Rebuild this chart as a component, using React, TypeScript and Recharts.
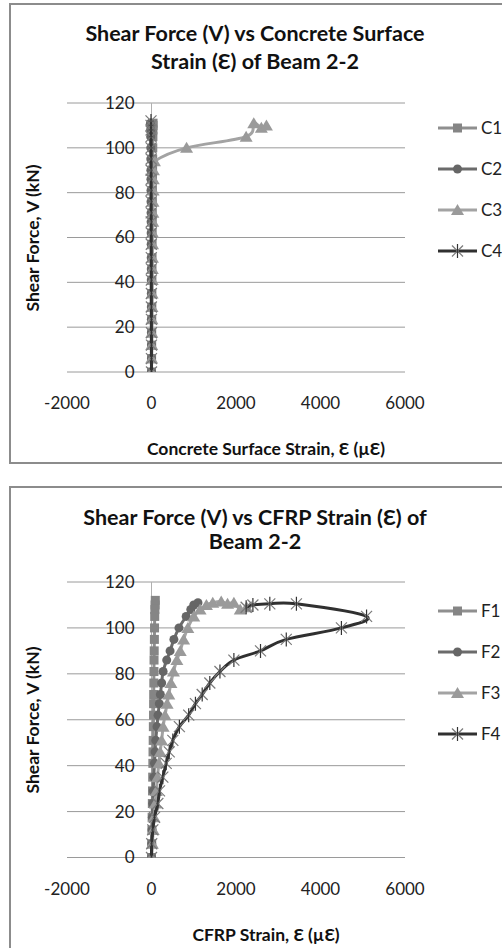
import { ScatterChart, Scatter, XAxis, YAxis, CartesianGrid, ReferenceLine } from "recharts";

// ---- data (strain in µε, shear force in kN) ----
const strainTicks = [-2000, 0, 2000, 4000, 6000];
const forceTicks = [0, 20, 40, 60, 80, 100, 120];

const loadSteps = [0, 6, 12, 17.5, 23.5, 29, 35, 41, 46, 51, 57, 62, 67, 71, 76, 81, 86, 90, 95, 100, 105, 108, 110, 111];

// Beam 2-2 concrete surface gauges
const c1Strain = [0, 2, 4, 5, 6, 8, 9, 10, 12, 13, 14, 16, 18, 19, 21, 22, 24, 26, 28, 30, 33, 35, 36, 37];
const c2Strain = [0, -1, -2, -3, -3, -4, -5, -6, -6, -7, -8, -9, -10, -11, -12, -13, -14, -15, -17, -18, -20, -22, -24, -25];
const c3Load = [0, 6, 12, 17.5, 23.5, 29, 35, 41, 46, 51, 57, 62, 67, 71, 76, 81, 86, 90, 94, 100, 105, 111, 109, 110];
const c3Strain = [0, 3, 5, 8, 10, 12, 15, 17, 20, 22, 25, 28, 30, 33, 36, 39, 42, 46, 70, 830, 2240, 2420, 2600, 2720];
const c4Load = [0, 6, 12, 17.5, 23.5, 29, 35, 41, 46, 51, 57, 62, 67, 71, 76, 81, 86, 90, 95, 100, 105, 108, 110, 112];
const c4Strain = [0, -1, -1, -2, -2, -3, -3, -4, -4, -5, -5, -6, -6, -7, -7, -8, -8, -9, -9, -10, -10, -11, -11, -12];

// Beam 2-2 CFRP gauges
const f1Load = [0, 6, 12, 17.5, 23.5, 29, 35, 41, 46, 51, 57, 62, 67, 71, 76, 81, 86, 90, 95, 100, 105, 108, 110, 112];
const f1Strain = [0, 5, 10, 15, 20, 24, 28, 32, 36, 40, 44, 48, 50, 52, 55, 58, 60, 64, 68, 72, 76, 80, 85, 90];
const f2Load = [0, 6, 12, 17.5, 23.5, 29, 35, 41, 46, 51, 57, 62, 67, 71, 76, 81, 86, 90, 95, 100, 105, 108, 110, 111];
const f2Strain = [0, 5, 12, 20, 30, 42, 55, 70, 85, 100, 130, 155, 185, 210, 240, 275, 360, 440, 530, 650, 820, 930, 1000, 1100];
const f3Load = [0, 6, 12, 17.5, 23.5, 29, 35, 41, 46, 51, 57, 62, 67, 71, 76, 81, 86, 90, 95, 100, 105, 108, 110, 111, 111.5, 110.5, 111, 108, 109];
const f3Strain = [0, 20, 40, 60, 90, 115, 140, 175, 205, 240, 275, 320, 370, 410, 460, 520, 600, 680, 760, 860, 1000, 1150, 1300, 1450, 1650, 1800, 1950, 2100, 2250];
const f4Load = [0, 6, 12, 17.5, 23.5, 29, 35, 41, 46, 51, 57, 62, 67, 71, 76, 81, 86, 90, 95, 100, 105, 110.5, 110.5, 110, 109];
const f4Strain = [0, 5, 31, 71, 150, 190, 268, 348, 420, 505, 660, 880, 1040, 1200, 1380, 1620, 1950, 2580, 3190, 4495, 5090, 3430, 2800, 2400, 2240];

const zip = (strain: number[], load: number[]) => strain.map((s, i) => ({ s, v: load[i] }));

type Kind = "square" | "circle" | "triangle" | "asterisk";
interface Series {
  name: string;
  data: { s: number; v: number }[];
  line: string;
  marker: string;
  kind: Kind;
}

const concreteSeries: Series[] = [
  { name: "C1", data: zip(c1Strain, loadSteps), line: "#8f8f8f", marker: "#858585", kind: "square" },
  { name: "C2", data: zip(c2Strain, loadSteps), line: "#6b6b6b", marker: "#666666", kind: "circle" },
  { name: "C3", data: zip(c3Strain, c3Load), line: "#a3a3a3", marker: "#9a9a9a", kind: "triangle" },
  { name: "C4", data: zip(c4Strain, c4Load), line: "#303030", marker: "#7a7a7a", kind: "asterisk" },
];

const cfrpSeries: Series[] = [
  { name: "F1", data: zip(f1Strain, f1Load), line: "#8f8f8f", marker: "#858585", kind: "square" },
  { name: "F2", data: zip(f2Strain, f2Load), line: "#6b6b6b", marker: "#666666", kind: "circle" },
  { name: "F3", data: zip(f3Strain, f3Load), line: "#a3a3a3", marker: "#9a9a9a", kind: "triangle" },
  { name: "F4", data: zip(f4Strain, f4Load), line: "#303030", marker: "#7a7a7a", kind: "asterisk" },
];

const FONT = "Lato, 'Open Sans', sans-serif";

// Excel-like smoothed line (Catmull-Rom through the points)
const excelSmooth = (context: any) => {
  let pts: number[][] = [];
  return {
    areaStart() {},
    areaEnd() {},
    lineStart() {
      pts = [];
    },
    point(x: number, y: number) {
      pts.push([+x, +y]);
    },
    lineEnd() {
      if (!pts.length) return;
      context.moveTo(pts[0][0], pts[0][1]);
      for (let i = 0; i < pts.length - 1; i++) {
        const p0 = pts[i - 1] || pts[i];
        const p1 = pts[i];
        const p2 = pts[i + 1];
        const p3 = pts[i + 2] || p2;
        context.bezierCurveTo(
          p1[0] + (p2[0] - p0[0]) / 6,
          p1[1] + (p2[1] - p0[1]) / 6,
          p2[0] - (p3[0] - p1[0]) / 6,
          p2[1] - (p3[1] - p1[1]) / 6,
          p2[0],
          p2[1]
        );
      }
    },
  };
};

function Marker({ kind, cx, cy, color }: { kind: Kind; cx: number; cy: number; color: string }) {
  if (kind === "square") return <rect x={cx - 4.5} y={cy - 4.5} width={9} height={9} fill={color} />;
  if (kind === "circle") return <circle cx={cx} cy={cy} r={4.5} fill={color} />;
  if (kind === "triangle")
    return <path d={`M${cx},${cy - 6} L${cx + 6.5},${cy + 5} L${cx - 6.5},${cy + 5} Z`} fill={color} />;
  return (
    <g stroke={color} strokeWidth={1.2}>
      <line x1={cx - 5.5} y1={cy - 5.5} x2={cx + 5.5} y2={cy + 5.5} />
      <line x1={cx - 5.5} y1={cy + 5.5} x2={cx + 5.5} y2={cy - 5.5} />
      <line x1={cx} y1={cy - 7} x2={cx} y2={cy + 7} stroke="#333" />
    </g>
  );
}

const X_MIN = -2000;
const X_MAX = 6000;
const PLOT_LEFT = 67;
const PLOT_RIGHT = 405;
const CHART_W = 502;
const X_AXIS_H = 40;
const Y_AXIS_W = 40;

function Panel({
  top,
  height,
  plotTop,
  plotBottom,
  series,
  title,
  titleGap,
  titleLine,
  xTitle,
  legendTop,
}: {
  top: number;
  height: number;
  plotTop: number;
  plotBottom: number;
  series: Series[];
  title: string[];
  titleGap: number;
  titleLine: number;
  xTitle: string;
  legendTop: number;
}) {
  const plotW = PLOT_RIGHT - PLOT_LEFT;
  const zeroX = ((0 - X_MIN) / (X_MAX - X_MIN)) * plotW;
  const yTick = (p: any) => (
    <text
      x={p.x + zeroX - 17}
      y={p.y}
      dy="0.35em"
      textAnchor="end"
      fontFamily={FONT}
      fontSize={17}
      fill="#222"
    >
      {p.payload.value}
    </text>
  );
  return (
    <>
      <div style={{ position: "absolute", left: 0, top, width: CHART_W, height }}>
        <ScatterChart
          width={CHART_W}
          height={height}
          margin={{
            top: plotTop,
            right: CHART_W - PLOT_RIGHT,
            left: PLOT_LEFT - Y_AXIS_W,
            bottom: height - plotBottom - X_AXIS_H,
          }}
        >
          <CartesianGrid vertical={false} stroke="#9a9a9a" strokeWidth={1} />
          <XAxis
            type="number"
            dataKey="s"
            domain={[X_MIN, X_MAX]}
            ticks={strainTicks}
            height={X_AXIS_H}
            axisLine={false}
            tickLine={false}
            tickSize={0}
            tickMargin={25}
            tick={{ fontFamily: FONT, fontSize: 17, fill: "#222" }}
            allowDataOverflow
          />
          <YAxis
            type="number"
            dataKey="v"
            domain={[0, 120]}
            ticks={forceTicks}
            width={Y_AXIS_W}
            axisLine={false}
            tickLine={false}
            tickSize={0}
            tickMargin={0}
            tick={yTick}
            allowDataOverflow
          />
          <ReferenceLine x={0} stroke="#b0b0b0" strokeWidth={1} />
          {series.map((sr) => (
            <Scatter
              key={sr.name}
              name={sr.name}
              data={sr.data}
              fill={sr.marker}
              line={{ stroke: sr.line, strokeWidth: 3 }}
              lineJointType={excelSmooth as any}
              shape={(p: any) => <Marker kind={sr.kind} cx={p.cx} cy={p.cy} color={sr.marker} />}
              isAnimationActive={false}
            />
          ))}
        </ScatterChart>
      </div>
      <div
        style={{
          position: "absolute",
          left: 20,
          top: top + titleGap - titleLine / 2,
          width: 470,
          textAlign: "center",
          fontFamily: FONT,
          fontWeight: 700,
          fontSize: 21.5,
          lineHeight: `${titleLine}px`,
          color: "#111",
        }}
      >
        {title.map((t) => (
          <div key={t}>{t}</div>
        ))}
      </div>
      <div
        style={{
          position: "absolute",
          left: PLOT_LEFT,
          width: plotW + 60,
          top: top + plotBottom + 66,
          textAlign: "center",
          fontFamily: FONT,
          fontWeight: 700,
          fontSize: 17.5,
          color: "#111",
        }}
      >
        {xTitle}
      </div>
      <div
        style={{
          position: "absolute",
          left: 33 - 100,
          top: top + (plotTop + plotBottom) / 2 - 10,
          width: 200,
          height: 20,
          lineHeight: "20px",
          textAlign: "center",
          transform: "rotate(-90deg)",
          fontFamily: FONT,
          fontWeight: 700,
          fontSize: 17.5,
          color: "#111",
        }}
      >
        Shear Force, V (kN)
      </div>
      <svg style={{ position: "absolute", left: 430, top: top + legendTop - 20 }} width={72} height={170}>
        {series.map((sr, i) => {
          const cy = 20 + i * 41;
          return (
            <g key={sr.name}>
              <line x1={8} x2={47} y1={cy} y2={cy} stroke={sr.line} strokeWidth={3} />
              <Marker kind={sr.kind} cx={27.5} cy={cy} color={sr.marker} />
              <text x={51} y={cy} dy="0.35em" fontFamily={FONT} fontSize={17} fill="#222">
                {sr.name}
              </text>
            </g>
          );
        })}
      </svg>
    </>
  );
}

export default function App() {
  return (
    <div
      style={{
        position: "absolute",
        left: 0,
        top: 0,
        width: 502,
        height: 948,
        overflow: "hidden",
        background: "#fff",
      }}
    >
      <div
        style={{
          position: "absolute",
          left: 9,
          top: 3,
          width: 520,
          height: 461,
          border: "2px solid #8c8c8c",
          boxSizing: "border-box",
        }}
      />
      <div
        style={{
          position: "absolute",
          left: 9,
          top: 486,
          width: 520,
          height: 500,
          border: "2px solid #8c8c8c",
          boxSizing: "border-box",
        }}
      />
      <Panel
        top={0}
        height={470}
        plotTop={103}
        plotBottom={372}
        series={concreteSeries}
        title={["Shear Force (V) vs Concrete Surface", "Strain (\u0190) of Beam 2-2"]}
        titleGap={33}
        titleLine={28}
        xTitle={"Concrete Surface Strain, \u0190 (\u00b5\u0190)"}
        legendTop={128}
      />
      <Panel
        top={484}
        height={464}
        plotTop={98}
        plotBottom={373.5}
        series={cfrpSeries}
        title={["Shear Force (V) vs CFRP Strain (\u0190) of", "Beam 2-2"]}
        titleGap={33}
        titleLine={24}
        xTitle={"CFRP Strain, \u0190 (\u00b5\u0190)"}
        legendTop={127}
      />
    </div>
  );
}
